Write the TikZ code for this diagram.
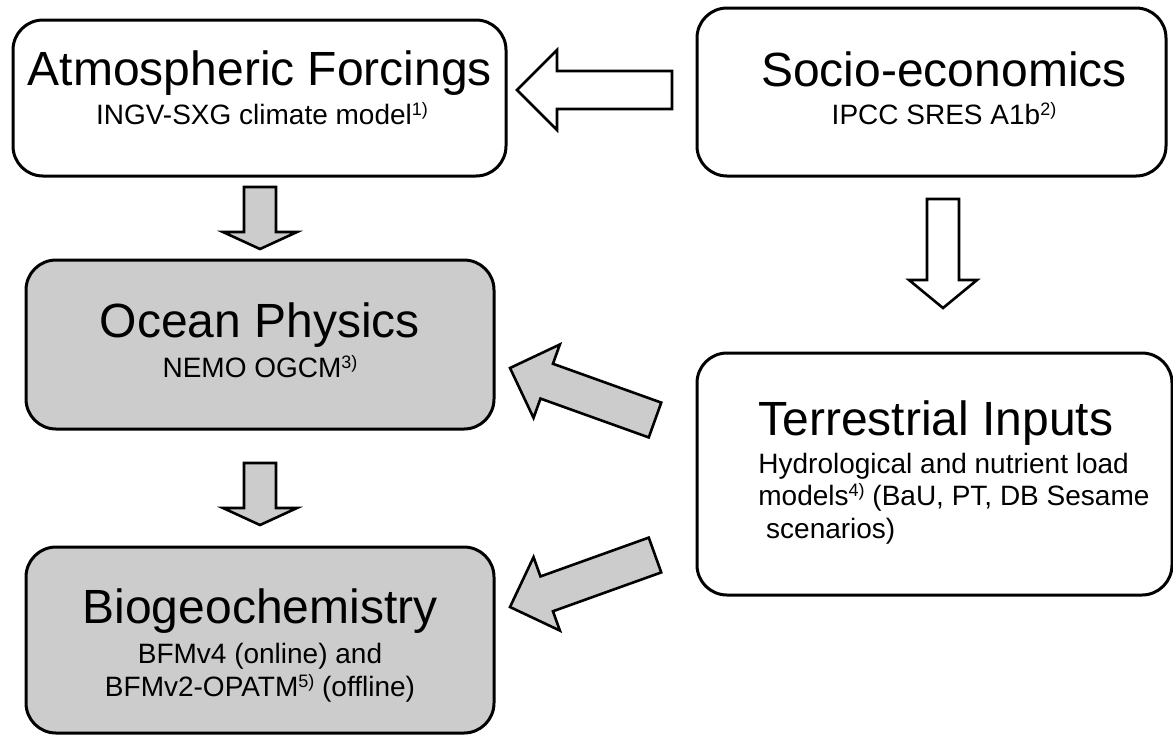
\documentclass[tikz,border=0pt]{standalone}
\usepackage{fontspec}
\setmainfont{Liberation Sans}
\usetikzlibrary{calc}
\newcommand{\titlesize}{\fontsize{24}{28}\selectfont}
\newcommand{\subsize}{\fontsize{14}{16.5}\selectfont}
\newcommand{\supnote}[1]{\raisebox{4.3pt}{\fontsize{9}{9}\selectfont #1}}
% #1 fill, #2 tail, #3 tip, #4 half shaft, #5 half head, #6 head length
\newcommand{\blockarrow}[6]{%
  \coordinate (ba) at ($(#3)!#6!(#2)$);
  \draw[blockline, fill=#1] ($(#2)!#4!90:(#3)$) -- ($(ba)!#4!90:(#3)$) -- ($(ba)!#5!90:(#3)$) -- (#3)
    -- ($(ba)!#5!-90:(#3)$) -- ($(ba)!#4!-90:(#3)$) -- ($(#2)!#4!-90:(#3)$) -- cycle;}
\begin{document}
\begin{tikzpicture}[x=0.5pt, y=-0.5pt,
    modelbox/.style={draw, line width=1.5pt, rounded corners=15pt, inner sep=0pt},
    physbox/.style={modelbox, fill=gray!40},
    titletext/.style={font=\titlesize, inner sep=0pt, anchor=base},
    subtext/.style={font=\subsize, inner sep=0pt, anchor=base, align=center},
    blockline/.style={draw, line width=1.3pt, line join=miter}]
  \useasboundingbox (0,0) rectangle (1173,736);
  \node (atmos)[modelbox, minimum width=246.5pt, minimum height=78pt] at (259.5, 98) {};
  \node (socio)[modelbox, minimum width=234.5pt, minimum height=84pt] at (931.5, 92) {};
  \node (ocean)[physbox, minimum width=234pt, minimum height=84.5pt] at (260, 344.5) {};
  \node (terr)[modelbox, minimum width=237.5pt, minimum height=121pt] at (934.5, 474) {};
  \node (bio)[physbox, minimum width=234pt, minimum height=93pt] at (260, 640) {};

  \node (atmostitle)[titletext] at (260, 85) {Atmospheric Forcings};
  \node (atmossub)[subtext] at (262, 124) {INGV-SXG climate model\supnote{1)}};
  \node (sociotitle)[titletext] at (944, 86) {Socio-economics};
  \node (sociosub)[subtext] at (944, 124) {IPCC SRES A1b\supnote{2)}};
  \node (oceantitle)[titletext] at (260, 337) {Ocean Physics};
  \node (oceansub)[subtext] at (260, 377) {NEMO OGCM\supnote{3)}};
  \node (terrtitle)[titletext, anchor=base west] at (758, 435) {Terrestrial Inputs};
  \node (terrsub)[subtext, anchor=base west, align=left, font=\fontsize{14}{16.25}\selectfont] at (758, 538)
    {Hydrological and nutrient load\\ models\supnote{4)} (BaU, PT, DB Sesame\\ \ scenarios)};
  \node (biotitle)[titletext] at (260, 623) {Biogeochemistry};
  \node (biosub)[subtext] at (260, 696) {BFMv4 (online) and\\ BFMv2-OPATM\supnote{5)} (offline)};

  \coordinate (sociotail) at (672, 90);
  \coordinate (atmostip) at (517, 90);
  \coordinate (atmostail) at (260, 187);
  \coordinate (oceantip) at (260, 249);
  \coordinate (oceantail) at (260, 463);
  \coordinate (biotip) at (260, 525);
  \coordinate (sociodown) at (943, 199);
  \coordinate (terrtip) at (943, 308);
  \coordinate (terrup) at (655, 420);
  \coordinate (oceanside) at (510, 368);
  \coordinate (terrlow) at (655, 555);
  \coordinate (bioside) at (510, 607);

  \blockarrow{white}{sociotail}{atmostip}{9.5pt}{20pt}{20pt}
  \blockarrow{gray!40}{atmostail}{oceantip}{8pt}{18.5pt}{8.5pt}
  \blockarrow{gray!40}{oceantail}{biotip}{8pt}{18.5pt}{8.5pt}
  \blockarrow{white}{sociodown}{terrtip}{8pt}{17pt}{14pt}
  \blockarrow{gray!40}{terrup}{oceanside}{9.25pt}{19.5pt}{19.5pt}
  \blockarrow{gray!40}{terrlow}{bioside}{9.25pt}{19.5pt}{19.5pt}
\end{tikzpicture}
\end{document}
